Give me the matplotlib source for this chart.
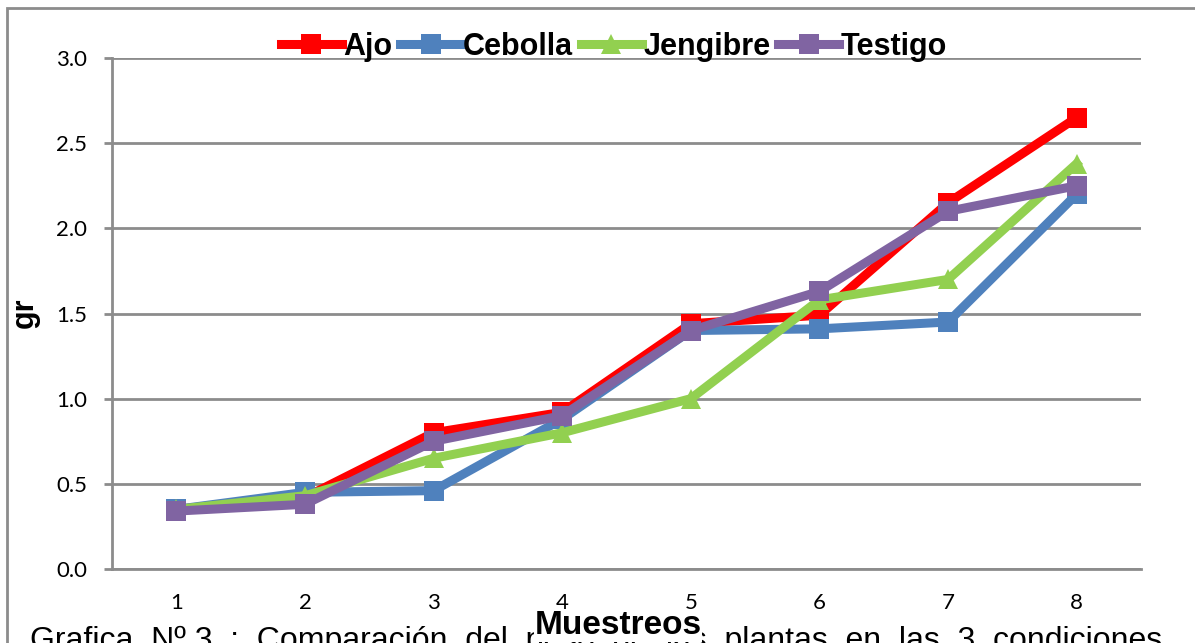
import matplotlib
matplotlib.use("Agg")
import matplotlib.pyplot as plt
from matplotlib.patches import Rectangle

muestreos = [1, 2, 3, 4, 5, 6, 7, 8]
ajo = [0.35, 0.42, 0.80, 0.92, 1.44, 1.49, 2.15, 2.65]
cebolla = [0.35, 0.45, 0.46, 0.88, 1.40, 1.41, 1.45, 2.20]
jengibre = [0.35, 0.43, 0.65, 0.80, 1.00, 1.58, 1.70, 2.38]
testigo = [0.34, 0.38, 0.75, 0.90, 1.40, 1.63, 2.10, 2.25]
y_ticks = [0.0, 0.5, 1.0, 1.5, 2.0, 2.5, 3.0]

series = [
    ("Ajo", ajo, "#FF0000", "s"),
    ("Cebolla", cebolla, "#4F81BD", "s"),
    ("Jengibre", jengibre, "#92D050", "^"),
    ("Testigo", testigo, "#8064A2", "s"),
]

fig = plt.figure(figsize=(11.95, 6.43), dpi=100)
ax = fig.add_axes([112/1195, 1-569/643, (1141-112)/1195, (569-58)/643])

for name, vals, col, mk in series:
    ax.plot(muestreos, vals, color=col, lw=6.5, marker=mk, ms=15,
            markeredgewidth=0, label=name, solid_joinstyle="miter", zorder=3)

ax.set_xlim(0.5, 8.5)
ax.set_ylim(0, 3.0)
ax.set_yticks(y_ticks)
ax.set_yticklabels([f"{v:.1f}" for v in y_ticks])
ax.set_xticks(muestreos)
ax.set_xticklabels([str(m) for m in muestreos])
ax.yaxis.grid(True, color="#8C8C8C", lw=2, zorder=0)
ax.set_axisbelow(True)
for s in ["top", "right"]:
    ax.spines[s].set_visible(False)
for s in ["left", "bottom"]:
    ax.spines[s].set_color("#8C8C8C")
    ax.spines[s].set_linewidth(2)
ax.tick_params(axis="y", length=6, width=2, color="#8C8C8C", pad=12,
               labelsize=16)
ax.tick_params(axis="x", length=0, pad=17, labelsize=16)
for lab in ax.get_xticklabels() + ax.get_yticklabels():
    lab.set_fontfamily("Lato")

ax.set_ylabel("gr", fontsize=22, fontweight="bold", family="Liberation Sans")
ax.yaxis.set_label_coords(-72/1029, (569-313)/511)

leg = ax.legend(loc="center", bbox_to_anchor=(614/1195, 1-47/643),
                bbox_transform=fig.transFigure, ncol=4, frameon=False,
                handlelength=2.0, handletextpad=0.05, columnspacing=0.25,
                prop={"family": "Liberation Sans", "weight": "bold", "size": 22})

fig.patches.append(Rectangle((7/1195, -0.1), 1.2, 1.1 - 8/643,
                             transform=fig.transFigure, fill=False,
                             edgecolor="#8C8C8C", lw=2))

fig.text(30/1195, 1-626/643,
         "Grafica  Nº 3  :  Comparación  del  peso  de  las  plantas  en  las  3  condiciones",
         ha="left", va="top", fontsize=23, family="Liberation Sans", zorder=1)

fig.text(618/1195, 1-626/643, "Muestreos", ha="center", va="center",
         fontsize=24, fontweight="bold", family="Liberation Sans", zorder=5,
         bbox=dict(facecolor="white", edgecolor="none", pad=0))

fig.savefig("out.png", dpi=100)
